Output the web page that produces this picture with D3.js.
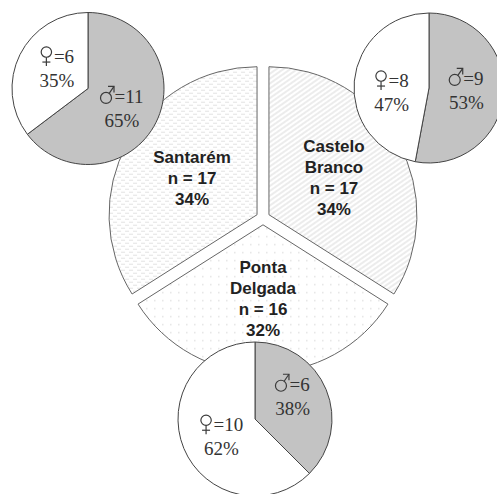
<!DOCTYPE html>
<html>
<head>
<meta charset="utf-8">
<script src="https://cdn.jsdelivr.net/npm/d3@7"></script>
<style>
  html, body { margin: 0; padding: 0; background: #fff; }
  svg { display: block; }
</style>
</head>
<body>
<svg id="chart" width="497" height="494"></svg>
<script>
// ---- data ----
const regions    = ["Santarém", "Castelo Branco", "Ponta Delgada"];
const regionN    = [17, 17, 16];
const regionPct  = [34, 34, 32];
const femaleN    = [6, 8, 10];
const maleN      = [11, 9, 6];
const femalePct  = [35, 47, 62];
const malePct    = [65, 53, 38];
const regionLines = [["Santarém"], ["Castelo", "Branco"], ["Ponta", "Delgada"]];
const sexes = ["male", "female"];

// ---- layout ----
const main = { cx: 263, cy: 218, r: 148, explode: 6.8, labelR: 81, labelDy: 5, lh: 21 };
const small = [ { cx: 88, cy: 88.5, r: 76 }, { cx: 429, cy: 88, r: 75 }, { cx: 255, cy: 419, r: 77 } ];
// small label nudges [male, female] as [dx, dy]
const nudges = [ [[0, 4], [3, -3]], [[0, 0], [0, 8]], [[2, -7], [2, 3]] ];
const patterns = ["pSant", "pCast", "pPonta"];
const symW = 14;

const svg = d3.select("#chart");
const defs = svg.append("defs");

const p1 = defs.append("pattern").attr("id", "pSant").attr("patternUnits", "userSpaceOnUse")
  .attr("width", 8).attr("height", 6);
p1.append("rect").attr("width", 8).attr("height", 6).attr("fill", "#fff");
p1.append("rect").attr("x", 0).attr("y", 1).attr("width", 4).attr("height", 1).attr("fill", "#e2e2e2");
p1.append("rect").attr("x", 4).attr("y", 4).attr("width", 4).attr("height", 1).attr("fill", "#e2e2e2");
const p2 = defs.append("pattern").attr("id", "pCast").attr("patternUnits", "userSpaceOnUse")
  .attr("width", 4).attr("height", 4).attr("patternTransform", "rotate(-35)");
p2.append("rect").attr("width", 4).attr("height", 4).attr("fill", "#fff");
p2.append("line").attr("x1", 0).attr("y1", 1).attr("x2", 4).attr("y2", 1)
  .attr("stroke", "#e0e0e0").attr("stroke-width", 1.2);
const p3 = defs.append("pattern").attr("id", "pPonta").attr("patternUnits", "userSpaceOnUse")
  .attr("width", 8).attr("height", 8);
p3.append("rect").attr("width", 8).attr("height", 8).attr("fill", "#fff");
p3.append("rect").attr("x", 3).attr("y", 3).attr("width", 1.5).attr("height", 1.5).attr("fill", "#e4e4e4");

// ---- main exploded pie ----
const total = d3.sum(regionN);
const startA = -2 * Math.PI * regionN[0] / total;
const mainPie = d3.pie().sort(null).startAngle(startA).endAngle(startA + 2 * Math.PI);
const mainArcs = mainPie(regionN);
const mainArc = d3.arc().innerRadius(0).outerRadius(main.r);

const gMain = svg.append("g").attr("transform", `translate(${main.cx},${main.cy})`);
mainArcs.forEach((a, i) => {
  const mid = (a.startAngle + a.endAngle) / 2;
  const dx = Math.sin(mid) * main.explode, dy = -Math.cos(mid) * main.explode;
  gMain.append("path").attr("d", mainArc(a))
    .attr("transform", `translate(${dx},${dy})`)
    .attr("fill", `url(#${patterns[i]})`)
    .attr("stroke", "#666").attr("stroke-width", 1);
});
mainArcs.forEach((a, i) => {
  const mid = (a.startAngle + a.endAngle) / 2;
  const lx = Math.sin(mid) * main.labelR, ly = -Math.cos(mid) * main.labelR + main.labelDy;
  const lines = regionLines[i].concat([`n = ${regionN[i]}`, `${regionPct[i]}%`]);
  const t = gMain.append("text")
    .attr("text-anchor", "middle")
    .attr("font-family", "Liberation Sans, Arial, sans-serif")
    .attr("font-weight", "bold").attr("font-size", 17).attr("fill", "#222");
  lines.forEach((s, k) => {
    t.append("tspan").attr("x", lx)
      .attr("y", ly + (k - (lines.length - 1) / 2) * main.lh)
      .text(s);
  });
});

// gender symbols drawn as outline glyphs; (x0, base) = left edge / text baseline
function drawSymbol(g, sex, x0, base) {
  const s = g.append("g").attr("fill", "none").attr("stroke", "#3a3a3a").attr("stroke-width", 1.2);
  if (sex === "female") {
    const cx = x0 + 6.5, cy = base - 10.5, r = 5.2;
    s.append("circle").attr("cx", cx).attr("cy", cy).attr("r", r);
    s.append("line").attr("x1", cx).attr("y1", cy + r).attr("x2", cx).attr("y2", base + 3.5);
    s.append("line").attr("x1", cx - 4).attr("y1", base - 0.5).attr("x2", cx + 4).attr("y2", base - 0.5);
  } else {
    const cx = x0 + 5.5, cy = base - 5.5, r = 5.5;
    const ex = x0 + 13.5, ey = base - 17;
    const ang = Math.atan2(ey - cy, ex - cx);
    s.append("circle").attr("cx", cx).attr("cy", cy).attr("r", r);
    s.append("line").attr("x1", cx + r * Math.cos(ang)).attr("y1", cy + r * Math.sin(ang))
      .attr("x2", ex).attr("y2", ey);
    s.append("polyline").attr("points", `${ex - 6},${ey} ${ex},${ey} ${ex},${ey + 6}`)
      .attr("stroke-linejoin", "miter");
  }
}

// ---- small gender pies ----
const smallPie = d3.pie().sort(null);
regions.forEach((reg, i) => {
  const s = small[i];
  const g = svg.append("g").attr("transform", `translate(${s.cx},${s.cy})`);
  const arcs = smallPie([maleN[i], femaleN[i]]);
  const arc = d3.arc().innerRadius(0).outerRadius(s.r);
  const lab = d3.arc().innerRadius(s.r * 0.5).outerRadius(s.r * 0.5);
  g.append("circle").attr("r", s.r).attr("fill", "#fff");
  arcs.forEach((a, k) => {
    g.append("path").attr("d", arc(a))
      .attr("fill", k === 0 ? "#c3c3c3" : "#fff")
      .attr("stroke", "#444").attr("stroke-width", 1);
  });
  const counts = [maleN[i], femaleN[i]];
  const pcts = [malePct[i], femalePct[i]];
  arcs.forEach((a, k) => {
    const [cx, cy] = lab.centroid(a);
    const x = cx + nudges[i][k][0], y = cy + nudges[i][k][1];
    const font = t => t.attr("font-family", "Liberation Serif, Times New Roman, serif")
      .attr("font-size", 19).attr("fill", "#333");
    const l1 = font(g.append("text")).attr("text-anchor", "start").text(`=${counts[k]}`);
    const tw = l1.node().getComputedTextLength();
    const x0 = x - (symW + tw) / 2;
    const base1 = y - 6;
    l1.attr("x", x0 + symW).attr("y", base1);
    drawSymbol(g, sexes[k], x0, base1);
    font(g.append("text")).attr("text-anchor", "middle").attr("x", x).attr("y", y + 18).text(`${pcts[k]}%`);
  });
});
</script>
</body>
</html>
